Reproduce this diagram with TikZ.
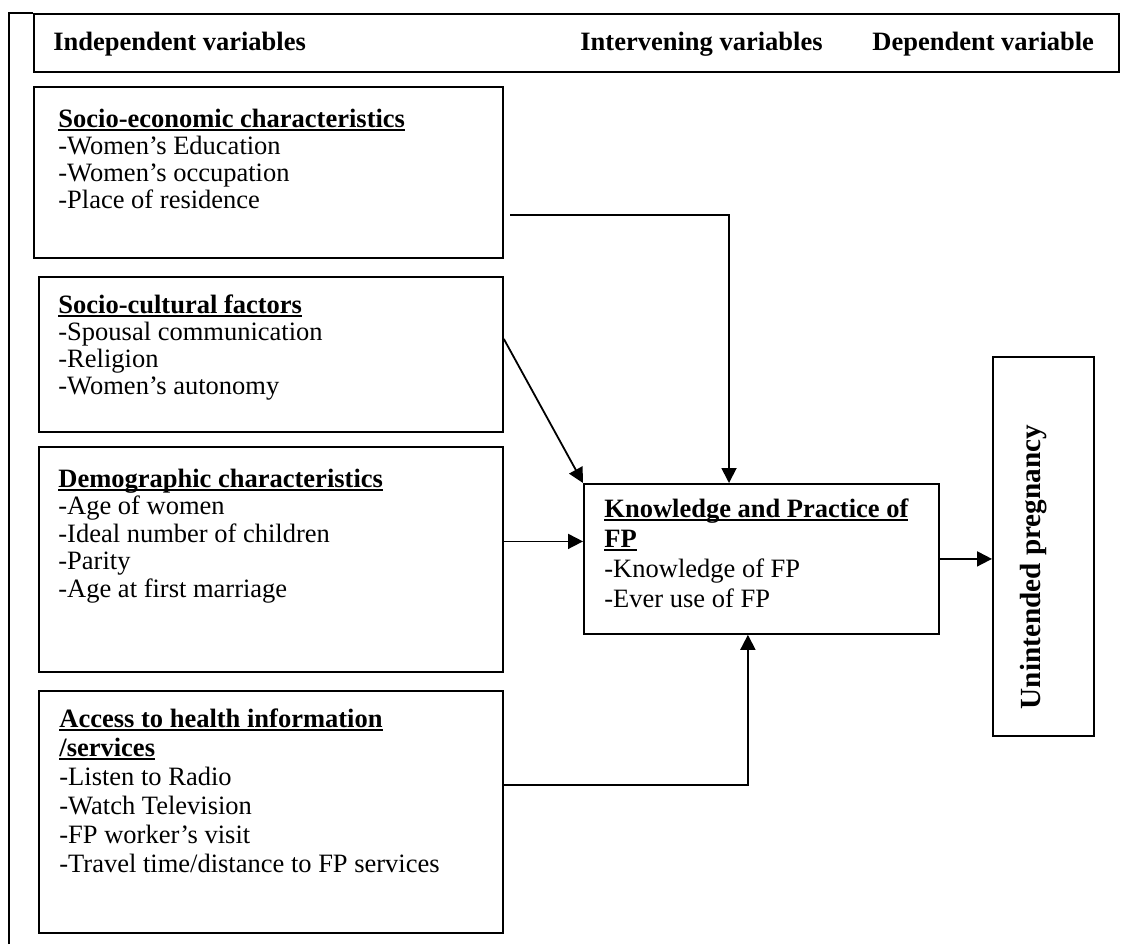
\documentclass[tikz,border=0pt]{standalone}
\usepackage{fontspec}
\setmainfont{Liberation Serif}
\usetikzlibrary{arrows.meta}
\newcommand{\headul}[1]{\setbox0\hbox{\bfseries #1}\rlap{\rule[-2.2pt]{\wd0}{1.2pt}}\box0}

\begin{document}
\begin{tikzpicture}[x=0.5pt,y=-0.5pt,
			box/.style={draw,line width=0.9pt,anchor=north west},
			txt/.style={anchor=base west,align=left,font=\fontsize{13.25}{13.5}\selectfont},
			hd/.style={font=\fontsize{13.25}{14}\selectfont\bfseries},
			link/.style={line width=0.9pt,-{Triangle[length=7.5pt,width=7.5pt]}},
			inner sep=0pt]
		\useasboundingbox (0,0) rectangle (1122,944);
		\node [box,minimum width=542.5pt,minimum height=29pt]	(header)	at (33,13)	{};
			\node [hd,anchor=base west] (hdindep) at (53,50) {Independent variables};
			\node [hd,anchor=base east] (hdinterv) at (823,50) {Intervening variables};
			\node [hd,anchor=base west] (hddep) at (872,50) {Dependent variable};
		\draw [line width=0.9pt] (9,944) -- (9,13) -- (header.north west);
		\node [box,minimum width=234.5pt,minimum height=85.5pt]	(socecon)	at (33,86)	{};
			\node [txt] (socecontxt) at (58,208) {\headul{Socio-economic characteristics}\\-Women’s Education\\-Women’s occupation\\-Place of residence};
		\node [box,minimum width=232pt,minimum height=77.5pt]	(soccult)	at (38,276)	{};
			\node [txt] (soccultxt) at (58,394) {\headul{Socio-cultural factors}\\-Spousal communication\\-Religion\\-Women’s autonomy};
		\node [box,minimum width=232pt,minimum height=112.5pt]	(demog)		at (38,446)	{};
			\node [txt,font=\fontsize{13.25}{13.75}\selectfont] (demogtxt) at (58,597) {\headul{Demographic characteristics}\\-Age of women\\-Ideal number of children\\-Parity\\-Age at first marriage};
		\node [box,minimum width=232pt,minimum height=121pt]	(access)	at (38,690)	{};
			\node [txt,font=\fontsize{13.25}{14.5}\selectfont] (accesstxt) at (59,872) {\headul{Access to health information}\\\headul{/services}\\-Listen to Radio\\-Watch Television\\-FP worker’s visit\\-Travel time/distance to FP services};
		\node [box,minimum width=177.5pt,minimum height=75pt]	(knowfp)	at (583,483)	{};
			\node [txt,font=\fontsize{13.25}{15}\selectfont] (knowfptxt) at (604,607) {\headul{Knowledge and Practice of}\\\headul{FP}\\-Knowledge of FP\\-Ever use of FP};
		\node [box,minimum width=50.5pt,minimum height=189.5pt]	(unint)		at (992,356)	{};
			\node [font=\fontsize{14.6}{15}\selectfont\bfseries,rotate=90] (unintxt) at (1034,567) {Unintended pregnancy};
		\coordinate (secout) at (510,215);
		\draw [link] (secout) -| ([xshift=73pt]knowfp.north west);
		\draw [link] ([yshift=7.75pt]soccult.east) -- (knowfp.north west);
		\draw [link] ([yshift=9pt]demog.east) -- ([yshift=9pt]demog.east -| knowfp.west);
		\draw [link] ([yshift=13.5pt]access.east) -| ([xshift=-6.75pt]knowfp.south);
		\draw [link] (knowfp.east) -- (knowfp.east -| unint.west);
\end{tikzpicture}
\end{document}
